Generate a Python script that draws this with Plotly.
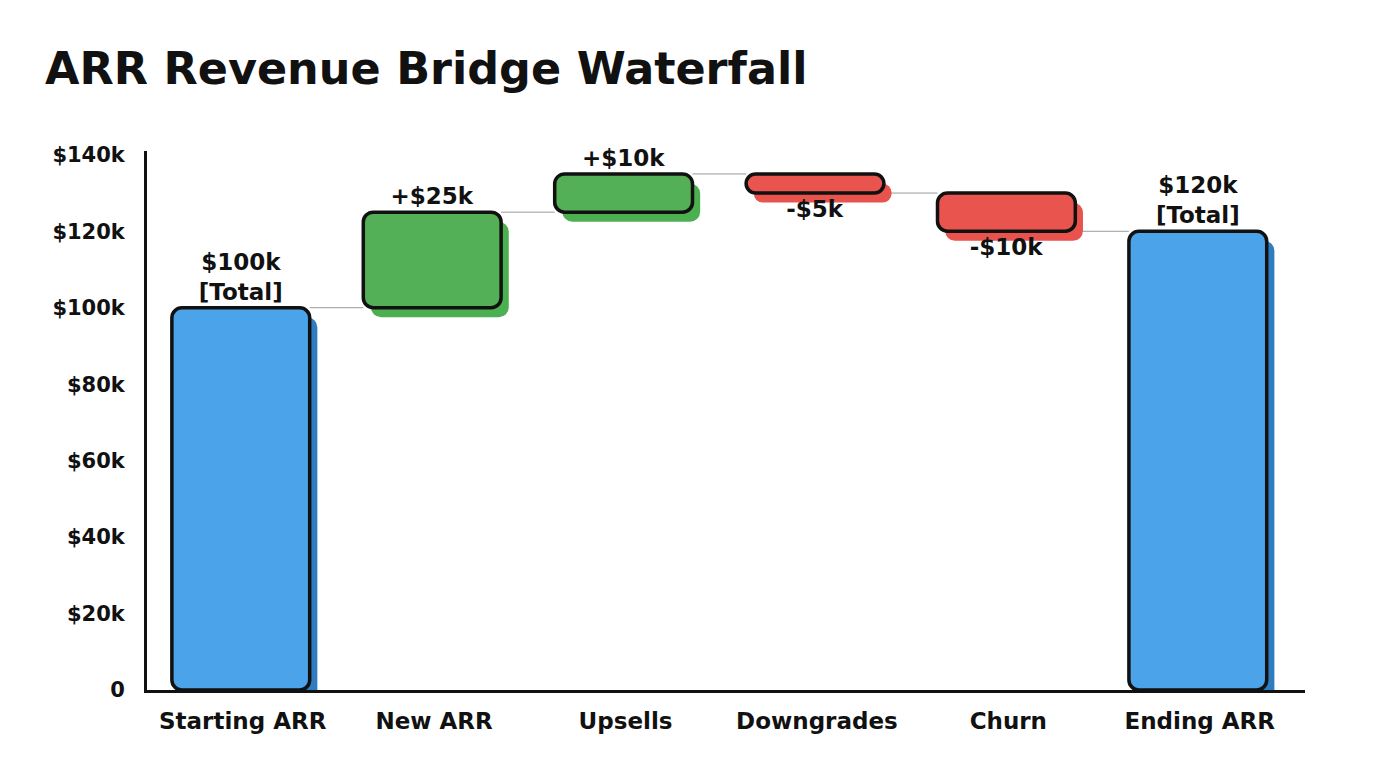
import plotly.graph_objects as go

categories = ["Starting ARR", "New ARR", "Upsells", "Downgrades", "Churn", "Ending ARR"]
values = [100000, 25000, 10000, -5000, -10000, 120000]
measures = ["total", "relative", "relative", "relative", "relative", "total"]
labels = ["$100k<br>[Total]", "+$25k", "+$10k", "-$5k", "-$10k", "$120k<br>[Total]"]
tick_vals = [0, 20000, 40000, 60000, 80000, 100000, 120000, 140000]
tick_text = ["0", "$20k", "$40k", "$60k", "$80k", "$100k", "$120k", "$140k"]

BLUE, GREEN, RED = "#4ba3ea", "#53b056", "#e9544e"
SH_BLUE, SH_GREEN, SH_RED = "#2f7cc1", "#4caf50", "#e8534d"
FONT = "DejaVu Sans"

# compute bases from data
bases, heights, colors, shadows = [], [], [], []
running = 0
for v, m in zip(values, measures):
    if m == "total":
        bases.append(0); heights.append(v); running = v
        colors.append(BLUE); shadows.append(SH_BLUE)
    else:
        bases.append(running); heights.append(v); running += v
        colors.append(GREEN if v > 0 else RED)
        shadows.append(SH_GREEN if v > 0 else SH_RED)

fig = go.Figure()
# sketchy shadow
fig.add_trace(go.Bar(
    x=categories, y=heights, base=[b - 2500 for b in bases],
    width=0.72, offset=-0.33, marker=dict(color=shadows, line=dict(width=0), cornerradius=10),
    hoverinfo="skip", showlegend=False,
))
fig.add_trace(go.Bar(
    x=categories, y=heights, base=bases, width=0.72, offset=-0.37,
    marker=dict(color=colors, line=dict(color="#111111", width=3.5), cornerradius=10),
    text=labels, textposition="outside", cliponaxis=False,
    textfont=dict(family=FONT, size=23, color="#111111", weight="bold"),
    showlegend=False,
))

# connectors
running = 0
ends = []
for v, m in zip(values, measures):
    running = v if m == "total" else running + v
    ends.append(running)
for i in range(len(categories) - 1):
    fig.add_shape(type="line", xref="x", yref="y",
                  x0=i + 0.35, x1=i + 1 - 0.37, y0=ends[i], y1=ends[i],
                  line=dict(color="#9a9a9a", width=1), layer="below")

fig.update_layout(
    width=1376, height=768,
    paper_bgcolor="white", plot_bgcolor="white",
    margin=dict(l=139, r=79, t=143, b=86),
    barmode="overlay",
    title=dict(text="ARR Revenue Bridge Waterfall", x=37/1376, xref="container", xanchor="left",
               y=1 - 60/768, yref="container", yanchor="middle",
               font=dict(family=FONT, size=44.5, color="#111111", weight="bold")),
    xaxis=dict(showline=True, linecolor="#111111", linewidth=3, showgrid=False, ticks="",
               range=[-0.5, 5.55], automargin=False, ticklabelstandoff=8,
               tickfont=dict(family=FONT, size=23, color="#111111", weight="bold")),
    yaxis=dict(showline=True, linecolor="#111111", linewidth=3, showgrid=False, zeroline=False,
               range=[0, 141000], tickvals=tick_vals, ticktext=tick_text, ticks="", ticklen=0,
               automargin=False, ticklabelstandoff=15,
               tickfont=dict(family=FONT, size=21, color="#111111", weight="bold")),
)
fig.write_html("out.html")
